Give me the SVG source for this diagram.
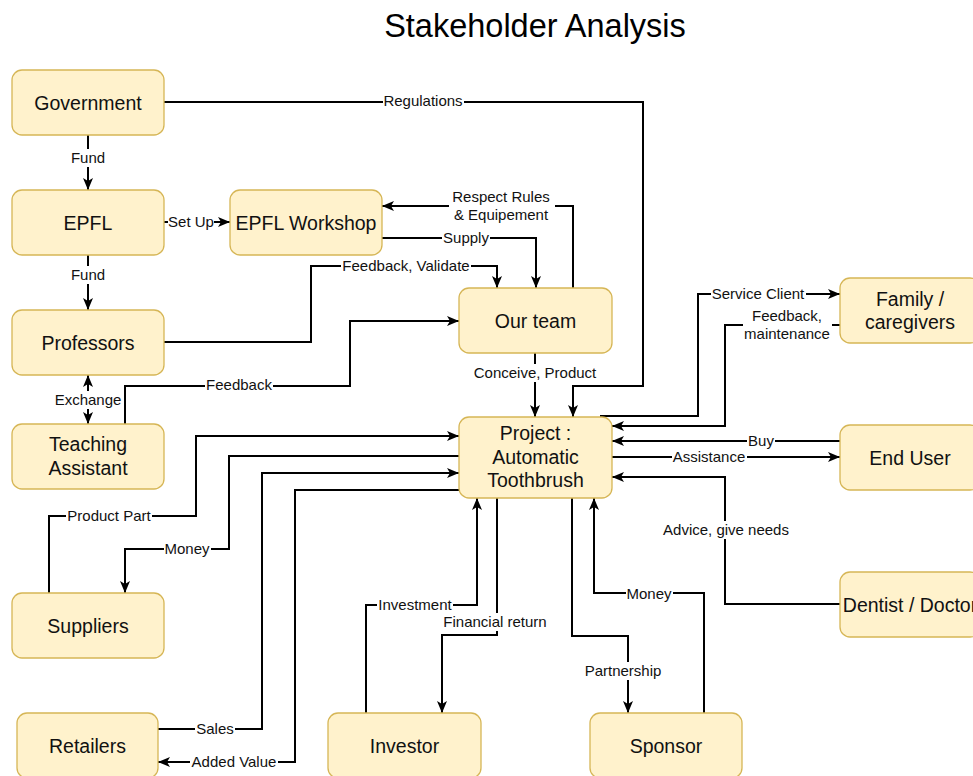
<svg xmlns="http://www.w3.org/2000/svg" width="973" height="776" viewBox="0 0 973 776">
  <style>
    .node rect { fill: #fff2cc; stroke: #d6b656; stroke-width: 1.3; }
    .node text { font-family: "Liberation Sans", Arial, sans-serif; font-size: 19.5px; fill: #111; text-anchor: middle; }
    .edge { fill: none; stroke: #000; stroke-width: 2; marker-end: url(#arrow); }
    .lbl rect { fill: #fff; }
    .lbl text { font-family: "Liberation Sans", Arial, sans-serif; font-size: 15px; fill: #111; text-anchor: middle; }
    .title { font-family: "Liberation Sans", Arial, sans-serif; font-size: 32.5px; fill: #000; text-anchor: middle; }
  </style>
  <defs>
    <marker id="arrow" viewBox="0 0 12 10" refX="12" refY="5" markerWidth="12" markerHeight="10" markerUnits="userSpaceOnUse" orient="auto-start-reverse">
      <path d="M0,0 L12,5 L0,10 L3,5 Z" fill="#000"/>
    </marker>
  </defs>
  <rect width="973" height="776" fill="#fff"/>

  <text class="title" x="535" y="37">Stakeholder Analysis</text>

  <!-- connectors -->
  <g id="connectors">
    <path class="edge" d="M88,135 V190"/>
    <path class="edge" d="M164,222 H230"/>
    <path class="edge" d="M88,255 V310"/>
    <path class="edge" d="M88,375 V424" marker-start="url(#arrow)"/>
    <path class="edge" d="M164,102 H643 V386 H573 V417"/>
    <path class="edge" d="M573,288 V206 H382"/>
    <path class="edge" d="M382,238 H536 V288"/>
    <path class="edge" d="M164,342 H311 V266 H497 V288"/>
    <path class="edge" d="M125,424 V386 H350 V321 H459"/>
    <path class="edge" d="M535,353 V417"/>
    <path class="edge" d="M600,416 H698 V294 H840"/>
    <path class="edge" d="M840,325 H725 V426 H612"/>
    <path class="edge" d="M840,441 H612"/>
    <path class="edge" d="M612,457 H840"/>
    <path class="edge" d="M840,604 H725 V477 H612"/>
    <path class="edge" d="M49,593 V516 H196 V436 H459"/>
    <path class="edge" d="M459,456 H229 V549 H125 V593"/>
    <path class="edge" d="M158,729 H262 V473 H459"/>
    <path class="edge" d="M459,490 H295 V762 H158"/>
    <path class="edge" d="M366,713 V605 H477 V498"/>
    <path class="edge" d="M497,498 V635 H442 V713"/>
    <path class="edge" d="M572,498 V636 H628 V713"/>
    <path class="edge" d="M704,713 V593 H594 V498"/>

    <!-- edge labels -->
    <g class="lbl">
      <rect x="70" y="149" width="36" height="18"/><text x="88" y="163">Fund</text>
      <rect x="168" y="213" width="46" height="18"/><text x="191" y="227">Set Up</text>
      <rect x="70" y="266" width="36" height="18"/><text x="88" y="280">Fund</text>
      <rect x="54" y="391" width="69" height="18"/><text x="88" y="405">Exchange</text>
      <rect x="383" y="92" width="81" height="18"/><text x="423" y="106">Regulations</text>
      <rect x="449" y="187" width="106" height="38"/><text x="501" y="202">Respect Rules</text><text x="501" y="220">&amp; Equipement</text>
      <rect x="442" y="229" width="48" height="18"/><text x="466" y="243">Supply</text>
      <rect x="341" y="257" width="130" height="18"/><text x="406" y="271">Feedback, Validate</text>
      <rect x="205" y="376" width="68" height="18"/><text x="239" y="390">Feedback</text>
      <rect x="473" y="364" width="125" height="18"/><text x="535" y="378">Conceive, Product</text>
      <rect x="711" y="285" width="95" height="18"/><text x="758" y="299">Service Client</text>
      <rect x="743" y="307" width="89" height="37"/><text x="787" y="321">Feedback,</text><text x="787" y="339">maintenance</text>
      <rect x="747" y="432" width="28" height="18"/><text x="761" y="446">Buy</text>
      <rect x="672" y="448" width="75" height="18"/><text x="709" y="462">Assistance</text>
      <rect x="662" y="521" width="128" height="18"/><text x="726" y="535">Advice, give needs</text>
      <rect x="66" y="507" width="86" height="18"/><text x="109" y="521">Product Part</text>
      <rect x="164" y="540" width="47" height="18"/><text x="187" y="554">Money</text>
      <rect x="195" y="720" width="40" height="18"/><text x="215" y="734">Sales</text>
      <rect x="190" y="753" width="88" height="18"/><text x="234" y="767">Added Value</text>
      <rect x="377" y="596" width="76" height="18"/><text x="415" y="610">Investment</text>
      <rect x="442" y="613" width="106" height="18"/><text x="495" y="627">Financial return</text>
      <rect x="584" y="662" width="79" height="18"/><text x="623" y="676">Partnership</text>
      <rect x="626" y="585" width="47" height="18"/><text x="649" y="599">Money</text>
    </g>
  </g>

  <!-- stakeholders -->
  <g id="government" class="node"><rect x="12" y="70" width="152" height="65" rx="10"/><text x="88" y="109.5">Government</text></g>
  <g id="epfl" class="node"><rect x="12" y="190" width="152" height="65" rx="10"/><text x="88" y="229.5">EPFL</text></g>
  <g id="epfl-workshop" class="node"><rect x="230" y="190" width="152" height="65" rx="10"/><text x="306" y="229.5">EPFL Workshop</text></g>
  <g id="professors" class="node"><rect x="12" y="310" width="152" height="65" rx="10"/><text x="88" y="349.5">Professors</text></g>
  <g id="teaching-assistant" class="node"><rect x="12" y="424" width="152" height="65" rx="10"/><text x="88" y="451">Teaching</text><text x="88" y="475">Assistant</text></g>
  <g id="our-team" class="node"><rect x="459" y="288" width="153" height="65" rx="10"/><text x="535.5" y="327.5">Our team</text></g>
  <g id="project" class="node"><rect x="459" y="417" width="153" height="81" rx="10"/><text x="535.5" y="440">Project :</text><text x="535.5" y="464">Automatic</text><text x="535.5" y="487">Toothbrush</text></g>
  <g id="family" class="node"><rect x="840" y="278" width="140" height="65" rx="10"/><text x="910" y="306">Family /</text><text x="910" y="329">caregivers</text></g>
  <g id="end-user" class="node"><rect x="840" y="425" width="140" height="65" rx="10"/><text x="910" y="464.5">End User</text></g>
  <g id="dentist" class="node"><rect x="840" y="572" width="140" height="65" rx="10"/><text x="910" y="611.5">Dentist / Doctor</text></g>
  <g id="suppliers" class="node"><rect x="12" y="593" width="152" height="65" rx="10"/><text x="88" y="632.5">Suppliers</text></g>
  <g id="retailers" class="node"><rect x="17" y="713" width="141" height="65" rx="10"/><text x="87.5" y="752.5">Retailers</text></g>
  <g id="investor" class="node"><rect x="328" y="713" width="153" height="65" rx="10"/><text x="404.5" y="752.5">Investor</text></g>
  <g id="sponsor" class="node"><rect x="590" y="713" width="152" height="65" rx="10"/><text x="666" y="752.5">Sponsor</text></g>
</svg>
